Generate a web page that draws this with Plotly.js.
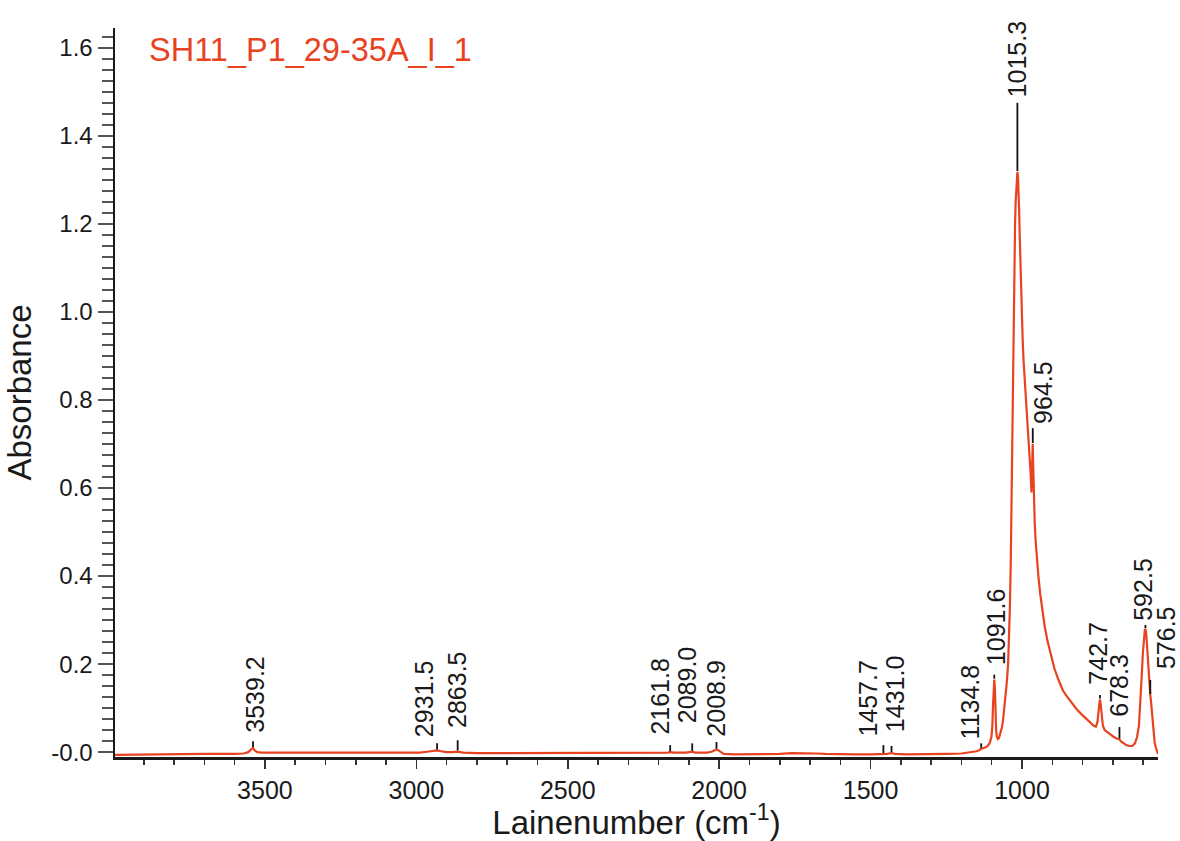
<!DOCTYPE html>
<html>
<head>
<meta charset="utf-8">
<script src="https://cdn.plot.ly/plotly-3.0.1.min.js"></script>
<style>
html,body{margin:0;padding:0;background:#fff;}
#chart{width:1180px;height:841px;}
</style>
</head>
<body>
<div id="chart"></div>
<script>
// ---- Spectrum data ----
const wavenumber = [
  3995, 3900, 3800, 3700, 3600, 3570, 3555, 3545, 3539.2, 3534, 3525, 3510,
  3450, 3350, 3250, 3150, 3050, 2990, 2965, 2945, 2931.5, 2918, 2900, 2880,
  2863.5, 2845, 2800, 2700, 2600, 2500, 2400, 2300, 2200, 2170, 2161.8, 2150,
  2110, 2095, 2089, 2080, 2040, 2025, 2015, 2008.9, 2002, 1995, 1985, 1950,
  1900, 1850, 1800, 1760, 1720, 1680, 1650, 1600, 1550, 1500, 1470, 1457.7,
  1445, 1431, 1420, 1380, 1300, 1250, 1200, 1170, 1150, 1140, 1134.8, 1128,
  1120, 1112, 1106, 1101, 1098, 1095.5, 1093.5, 1091.6, 1089.5, 1087.5, 1085.5, 1083,
  1080, 1076, 1072, 1067, 1063, 1058, 1054, 1050, 1046, 1043, 1040, 1037,
  1035, 1033, 1031, 1029, 1027, 1025, 1023, 1021, 1019, 1017, 1015.3, 1013.5,
  1011.5, 1009.5, 1007.5, 1005.5, 1003.5, 1001, 998, 995, 991, 987, 983, 979,
  975, 972, 970, 968.8, 967.5, 966, 964.5, 963, 961, 958, 955, 951,
  946, 940, 933, 925, 915, 905, 893, 880, 865, 850, 835, 820,
  805, 790, 775, 763, 756, 751, 747, 744.5, 742.7, 740.5, 737, 733,
  727, 718, 708, 698, 688, 681, 678.3, 674, 666, 656, 646, 636,
  627, 620, 614, 609, 605, 601, 597, 594.5, 592.5, 590, 587, 584,
  581, 578.5, 576.5, 574, 571, 568, 565, 562, 558, 555, 551
];
const absorbance = [
  -0.006, -0.005, -0.005, -0.004, -0.004, -0.003, 0.000, 0.005, 0.010, 0.004, 0.000, -0.001,
  -0.001, -0.001, -0.001, -0.002, -0.002, -0.001, 0.001, 0.003, 0.004, 0.002, 0.000, 0.000,
  0.001, -0.001, -0.002, -0.002, -0.002, -0.002, -0.002, -0.002, -0.002, -0.001, 0.000, -0.001,
  -0.001, 0.000, 0.001, -0.001, -0.001, 0.001, 0.004, 0.006, 0.004, 0.000, -0.004, -0.005,
  -0.005, -0.005, -0.004, -0.002, -0.002, -0.003, -0.004, -0.005, -0.005, -0.005, -0.005, -0.004,
  -0.004, -0.002, -0.004, -0.005, -0.005, -0.004, -0.003, -0.001, 0.002, 0.005, 0.008, 0.009,
  0.011, 0.015, 0.022, 0.035, 0.060, 0.110, 0.150, 0.165, 0.145, 0.090, 0.050, 0.035,
  0.030, 0.032, 0.040, 0.055, 0.070, 0.100, 0.130, 0.160, 0.200, 0.260, 0.330, 0.440,
  0.550, 0.670, 0.820, 0.960, 1.060, 1.140, 1.200, 1.250, 1.290, 1.310, 1.318, 1.310,
  1.280, 1.230, 1.170, 1.110, 1.060, 1.000, 0.940, 0.890, 0.840, 0.790, 0.750, 0.710,
  0.670, 0.640, 0.610, 0.590, 0.630, 0.680, 0.700, 0.650, 0.580, 0.520, 0.480, 0.440,
  0.400, 0.360, 0.320, 0.285, 0.250, 0.220, 0.190, 0.165, 0.140, 0.125, 0.110, 0.098,
  0.087, 0.077, 0.068, 0.060, 0.058, 0.068, 0.095, 0.115, 0.120, 0.110, 0.080, 0.060,
  0.050, 0.045, 0.040, 0.035, 0.031, 0.030, 0.029, 0.025, 0.021, 0.016, 0.014, 0.014,
  0.020, 0.035, 0.060, 0.110, 0.170, 0.225, 0.265, 0.278, 0.280, 0.270, 0.240, 0.200,
  0.165, 0.140, 0.130, 0.115, 0.090, 0.065, 0.040, 0.022, 0.010, 0.002, -0.004
];

// ---- Peak picks ----
const peakWavenumbers = [3539.2, 2931.5, 2863.5, 2161.8, 2089.0, 2008.9, 1457.7, 1431.0,
                         1134.8, 1091.6, 1015.3, 964.5, 742.7, 678.3, 592.5, 576.5];
const peakLabels = ['3539.2', '2931.5', '2863.5', '2161.8', '2089.0', '2008.9', '1457.7', '1431.0',
                    '1134.8', '1091.6', '1015.3', '964.5', '742.7', '678.3', '592.5', '576.5'];
const peakAbsorbance = [0.012, 0.006, 0.004, 0.002, 0.003, 0.008, -0.002, 0.000,
                        0.010, 0.167, 1.320, 0.702, 0.122, 0.031, 0.282, 0.132];

// ---- Tick labels ----
const yTickValues = [0, 0.2, 0.4, 0.6, 0.8, 1.0, 1.2, 1.4, 1.6];
const yTickLabels = ['-0.0', '0.2', '0.4', '0.6', '0.8', '1.0', '1.2', '1.4', '1.6'];
const xTickValues = [3500, 3000, 2500, 2000, 1500, 1000];
const xTickLabels = ['3500', '3000', '2500', '2000', '1500', '1000'];
const sampleName = 'SH11_P1_29-35A_I_1';

// ---- Label placement (layout only): top of marker line (data y), text bottom (data y), text x shift (px) ----
const markerTop  = [0.025, 0.020, 0.027, 0.016, 0.020, 0.023, 0.016, 0.014,
                    0.020, 0.176, 1.475, 0.736, 0.130, 0.057, 0.289, 0.164];
const labelBase  = [0.042, 0.032, 0.052, 0.038, 0.064, 0.034, 0.034, 0.042,
                    0.026, 0.196, 1.486, 0.744, 0.152, 0.078, 0.296, 0.186];
const labelShift = [2, -13, 0, -10, -5, 0, -15, 3, -11, 2, 0, 10, -2, 0, -2, 15];

const RED = '#e8421f';
const FONT = 'Liberation Sans, Arial, Helvetica, sans-serif';

// marker lines built from the peak arrays
const mx = [], my = [];
peakWavenumbers.forEach((w, i) => {
  mx.push(w, w, null);
  my.push(peakAbsorbance[i], markerTop[i], null);
});

const traces = [
  {
    x: wavenumber, y: absorbance, type: 'scatter', mode: 'lines',
    line: {color: RED, width: 2.2}, hoverinfo: 'x+y', showlegend: false
  },
  {
    x: mx, y: my, type: 'scatter', mode: 'lines',
    line: {color: '#111111', width: 1.8}, hoverinfo: 'skip', showlegend: false
  }
];

const annotations = peakLabels.map((t, i) => ({
  x: peakWavenumbers[i], y: labelBase[i], xref: 'x', yref: 'y',
  text: t, textangle: -90, showarrow: false,
  xanchor: 'center', yanchor: 'bottom', xshift: labelShift[i],
  borderpad: 0,
  font: {family: FONT, size: 25, color: '#1a1a1a'}
}));
annotations.push({
  x: 0.031, y: 0.97, xref: 'paper', yref: 'paper',
  text: sampleName, showarrow: false, xanchor: 'left', yanchor: 'middle',
  font: {family: FONT, size: 32.5, color: RED}
});

const layout = {
  width: 1180, height: 841,
  margin: {l: 115, r: 22, t: 28, b: 84},
  paper_bgcolor: '#ffffff', plot_bgcolor: '#ffffff',
  font: {family: FONT, size: 25, color: '#1a1a1a'},
  showlegend: false,
  xaxis: {
    range: [3995, 551], autorange: false,
    showgrid: false, zeroline: false,
    showline: true, linecolor: '#1a1a1a', linewidth: 2.5,
    ticks: 'outside', ticklen: 9, tickwidth: 1.5, tickcolor: '#333333',
    tickvals: xTickValues, ticktext: xTickLabels,
    tickfont: {family: FONT, size: 25, color: '#1a1a1a'},
    minor: {dtick: 100, tick0: 0, ticks: 'outside', ticklen: 5, tickwidth: 1.5, tickcolor: '#333333', showgrid: false},
    title: {text: 'Lainenumber (cm<sup>-1</sup>)', font: {family: FONT, size: 33, color: '#1a1a1a'}, standoff: 4}
  },
  yaxis: {
    range: [-0.011, 1.645], autorange: false,
    showgrid: false, zeroline: false,
    showline: true, linecolor: '#1a1a1a', linewidth: 2.5,
    ticks: 'outside', ticklen: 15, tickwidth: 1.5, tickcolor: '#555555',
    tickvals: yTickValues, ticktext: yTickLabels,
    tickfont: {family: FONT, size: 24, color: '#1a1a1a'},
    minor: {dtick: 0.025, tick0: 0, ticks: 'outside', ticklen: 11, tickwidth: 1.5, tickcolor: '#555555', showgrid: false},
    title: {text: 'Absorbance', font: {family: FONT, size: 33, color: '#1a1a1a'}, standoff: 10}
  },
  annotations: annotations
};

Plotly.newPlot('chart', traces, layout, {displayModeBar: false, staticPlot: true});
</script>
</body>
</html>
